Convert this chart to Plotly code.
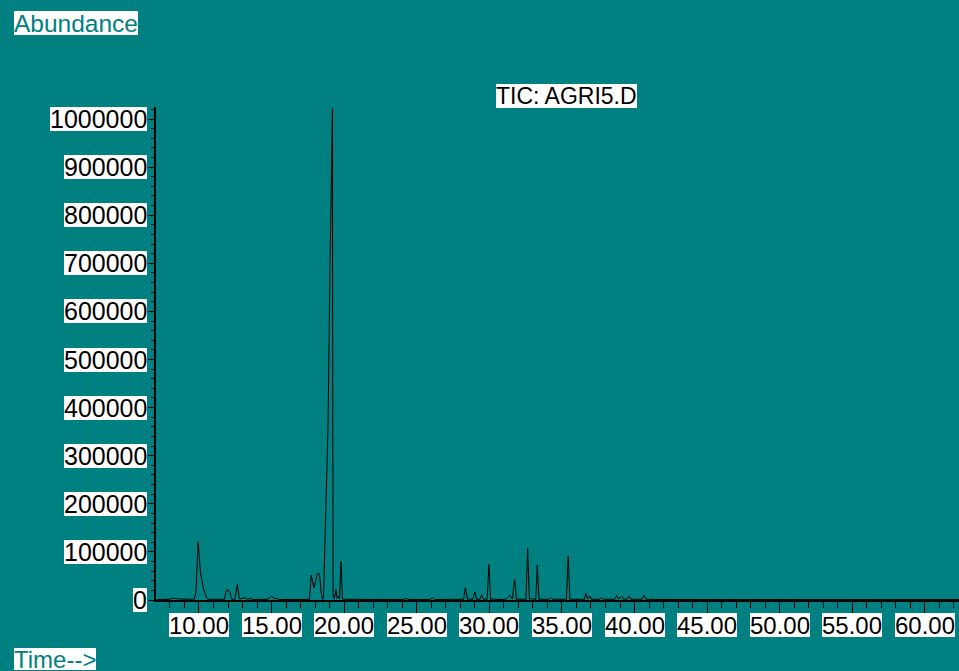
import plotly.graph_objects as go

# Retention time (min) and abundance
times = [7.10, 8.00, 8.21, 8.48, 9.40, 9.67, 9.79, 9.945, 10.10, 10.28, 10.48, 10.62,
         11.10, 11.76, 11.86, 12.00, 12.13, 12.27, 12.48, 12.64, 12.79,
         13.17, 13.34, 13.58, 13.72, 14.75, 15.00, 15.20, 15.35, 15.50,
         16.96, 17.61, 17.73, 17.92, 18.16, 18.30, 18.40, 18.49,
         18.574, 18.884, 19.022, 19.194, 19.215, 19.24,
         19.33, 19.435, 19.52, 19.61, 19.68, 19.78, 19.88,
         20.06, 22.47, 24.12, 24.26, 24.39, 25.91, 26.09, 26.22,
         27.98, 28.22, 28.35, 28.49, 28.86, 29.00, 29.13, 29.34, 29.47, 29.59,
         29.85, 29.97, 30.09, 30.27, 30.45,
         31.14, 31.42, 31.59, 31.74, 31.87, 32.52, 32.64, 32.76, 32.91, 33.07,
         33.20, 33.30, 33.42, 34.07, 34.21, 34.35,
         35.31, 35.43, 35.55, 35.90, 36.55, 36.65, 36.79, 36.93, 37.03,
         37.62, 37.73, 37.86, 38.65, 38.77, 38.90, 39.12, 39.24,
         39.51, 39.63, 39.75, 40.51, 40.65, 40.79, 41.75, 44.50, 62.35]
abundance = [1000, 1500, 4000, 2500, 1500, 1500, 15000, 121000, 58000, 27000, 8000, 1500,
             1500, 1500, 19000, 21000, 15000, 1500, 1500, 33000, 2000,
             5000, 1500, 3500, 1000, 1500, 8000, 2500, 3500, 1000,
             1000, 1500, 52000, 25000, 55000, 54000, 20000, 2000,
             2000, 353000, 686000, 1022000, 420000, 5000,
             3000, 22000, 3000, 8000, 2000, 80000, 2000,
             1500, 1000, 1200, 3500, 1200, 1000, 5500, 1000,
             1000, 1500, 26000, 2000, 1500, 16500, 1500, 1500, 11000, 1500,
             1500, 74000, 1500, 2500, 1000,
             1500, 9500, 2000, 43000, 1500, 1500, 107000, 1500, 3500, 1500,
             1500, 73000, 1500, 1500, 5000, 1500,
             1500, 91500, 1500, 1500, 1500, 14000, 2000, 8300, 1500,
             1500, 5000, 1500, 1500, 9700, 2000, 8300, 1500,
             2000, 8300, 1500, 1500, 9700, 1500, 1000, 1000, 800]

x_ticks = [10, 15, 20, 25, 30, 35, 40, 45, 50, 55, 60]
y_ticks = [0, 100000, 200000, 300000, 400000, 500000, 600000, 700000, 800000, 900000, 1000000]

TEAL = "#008080"
FONT = "Liberation Sans, Arial, sans-serif"

fig = go.Figure()
fig.add_trace(go.Scatter(x=times, y=abundance, mode="lines",
                         line=dict(color="#000000", width=1), hoverinfo="skip"))

annotations = []
for v in x_ticks:
    annotations.append(dict(x=v, xref="x", y=0, yref="paper", yanchor="top", yshift=-12.5,
                            text=f"{v:.2f}", showarrow=False, bgcolor="white",
                            borderpad=0, borderwidth=0, height=24,
                            font=dict(family=FONT, size=24, color="black")))
for v in y_ticks:
    annotations.append(dict(x=0, xref="paper", xanchor="right", xshift=-9, y=v, yref="y",
                            yanchor="middle", text=str(v), showarrow=False, bgcolor="white",
                            borderpad=0, borderwidth=0, height=24,
                            font=dict(family=FONT, size=25, color="black")))
annotations.append(dict(x=-142 / 803, xref="paper", xanchor="left", y=(600 - 11) / 493,
                        yref="paper", yanchor="top", text="Abundance", showarrow=False,
                        bgcolor="white", borderpad=0, borderwidth=0, height=24,
                        font=dict(family=FONT, size=24.5, color=TEAL)))
annotations.append(dict(x=-142 / 803, xref="paper", xanchor="left", y=(600 - 648) / 493,
                        yref="paper", yanchor="top", text="Time-->", showarrow=False,
                        bgcolor="white", borderpad=0, borderwidth=0, height=22,
                        font=dict(family=FONT, size=24, color=TEAL)))
annotations.append(dict(x=(566 - 156) / 803, xref="paper", xanchor="center",
                        y=(600 - 84) / 493, yref="paper", yanchor="top",
                        text="TIC: AGRI5.D", showarrow=False, bgcolor="white",
                        borderpad=0, borderwidth=0, height=24,
                        font=dict(family=FONT, size=23, color="black")))

fig.update_layout(
    width=959, height=671,
    margin=dict(l=156, r=0, t=107, b=71),
    paper_bgcolor=TEAL, plot_bgcolor=TEAL,
    showlegend=False,
    annotations=annotations,
    xaxis=dict(range=[7.04, 62.35], showgrid=False, zeroline=False,
               showline=True, linecolor="black", linewidth=2,
               tickmode="array", tickvals=x_ticks, showticklabels=False,
               ticks="outside", ticklen=12, tickwidth=1, tickcolor="black",
               minor=dict(dtick=1, tick0=0, ticks="outside", ticklen=6,
                          tickwidth=1, tickcolor="black", showgrid=False)),
    yaxis=dict(range=[0, 1025000], showgrid=False, zeroline=False,
               showline=True, linecolor="black", linewidth=2,
               tickmode="array", tickvals=y_ticks, showticklabels=False,
               ticks="outside", ticklen=6, tickwidth=1, tickcolor="black",
               minor=dict(dtick=20000, tick0=0, ticks="outside", ticklen=3,
                          tickwidth=1, tickcolor="black", showgrid=False)),
)

fig.write_html(
    "out.html",
    config={"displayModeBar": False},
    post_script="document.body.style.margin='0';document.body.style.background='#008080';"
                "document.body.style.overflow='hidden';",
)
